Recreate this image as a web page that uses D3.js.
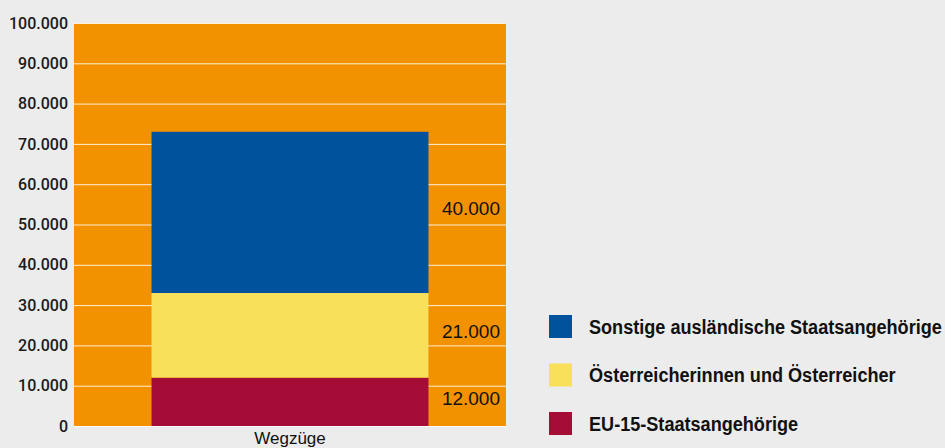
<!DOCTYPE html>
<html>
<head>
<meta charset="utf-8">
<script src="https://cdn.jsdelivr.net/npm/d3@7"></script>
<style>
  body { margin: 0; background: #ebeceb; }
  svg { display: block; }
  text { font-family: "Liberation Sans", Arial, sans-serif; }
</style>
</head>
<body>
<svg id="chart" width="945" height="448"></svg>
<script>
// data
const category = 'Wegzüge';
const seriesNames = ['EU-15-Staatsangehörige', 'Österreicherinnen und Österreicher', 'Sonstige ausländische Staatsangehörige'];
const seriesValues = [12000, 21000, 40000];
const seriesColors = ['#a50d36', '#f9e05a', '#00529c'];
const tickValues = [0, 10000, 20000, 30000, 40000, 50000, 60000, 70000, 80000, 90000, 100000];

const svg = d3.select('#chart');
const fmt = d => d3.format(',')(d).replace(/,/g, '.');

// plot area
const plotLeft = 74, plotRight = 506, plotTop = 23, plotBottom = 426;

const y = d3.scaleLinear().domain([0, 100000]).range([plotBottom, plotTop]);
const x = d3.scaleBand().domain([category]).range([plotLeft, plotRight])
    .paddingInner(0).paddingOuter(0.28);

svg.append('rect')
    .attr('x', plotLeft).attr('y', plotTop)
    .attr('width', plotRight - plotLeft).attr('height', plotBottom - plotTop)
    .attr('fill', '#f39200');

//grid + ticks
const yAxis = d3.axisLeft(y)
    .tickValues(tickValues)
    .tickFormat(fmt)
    .tickSize(-(plotRight - plotLeft))
    .tickPadding(6);

const gAxis = svg.append('g')
    .attr('transform', `translate(${plotLeft},0)`)
    .call(yAxis);
gAxis.select('.domain').remove();
gAxis.selectAll('.tick line')
    .attr('stroke', '#fff')
    .attr('stroke-opacity', 0.85);
gAxis.selectAll('.tick text')
    .attr('font-size', 16)
    .attr('font-weight', 500)
    .attr('fill', '#1a1a1a')
    .style('font-family', 'Roboto, "Liberation Sans", Arial, sans-serif');

// stack
let stacked = [];
let acc = 0;
seriesValues.forEach((v, i) => {
    stacked.push({name: seriesNames[i], value: v, y0: acc, y1: acc + v, color: seriesColors[i]});
    acc += v;
});

svg.append('g').selectAll('rect')
    .data(stacked)
    .join('rect')
    .attr('x', x(category))
    .attr('width', x.bandwidth())
    .attr('y', d => y(d.y1))
    .attr('height', d => y(d.y0) - y(d.y1))
    .attr('fill', d => d.color);

// value labels
svg.append('g').selectAll('text')
    .data(stacked)
    .join('text')
    .attr('x', plotRight - 6)
    .attr('y', d => y((d.y0 + d.y1) / 2) + 3)
    .attr('text-anchor', 'end')
    .attr('font-size', 19)
    .attr('fill', '#111')
    .text(d => fmt(d.value));

// category label
svg.append('text')
    .attr('x', x(category) + x.bandwidth() / 2)
    .attr('y', 444)
    .attr('text-anchor', 'middle')
    .attr('font-size', 17)
    .attr('fill', '#111')
    .text(category);

// legend (top entry = top of stack)
const legendData = stacked.slice().reverse();
const legend = svg.append('g').selectAll('g')
    .data(legendData)
    .join('g')
    .attr('transform', (d, i) => `translate(549,${315 + i * 48.5})`);

legend.append('rect')
    .attr('width', 23).attr('height', 23)
    .attr('fill', d => d.color);

const legendText = legend.append('text')
    .attr('y', 19)
    .attr('font-size', 20)
    .attr('font-weight', 'bold')
    .attr('fill', '#111')
    .text(d => d.name);

// condensed look: squeeze the labels horizontally so the longest fits
let maxW = d3.max(legendText.nodes(), n => n.getComputedTextLength());
let sx = (945 - 3 - 589) / maxW;
legendText.attr('transform', `translate(40,0) scale(${sx},1)`);
</script>
</body>
</html>
